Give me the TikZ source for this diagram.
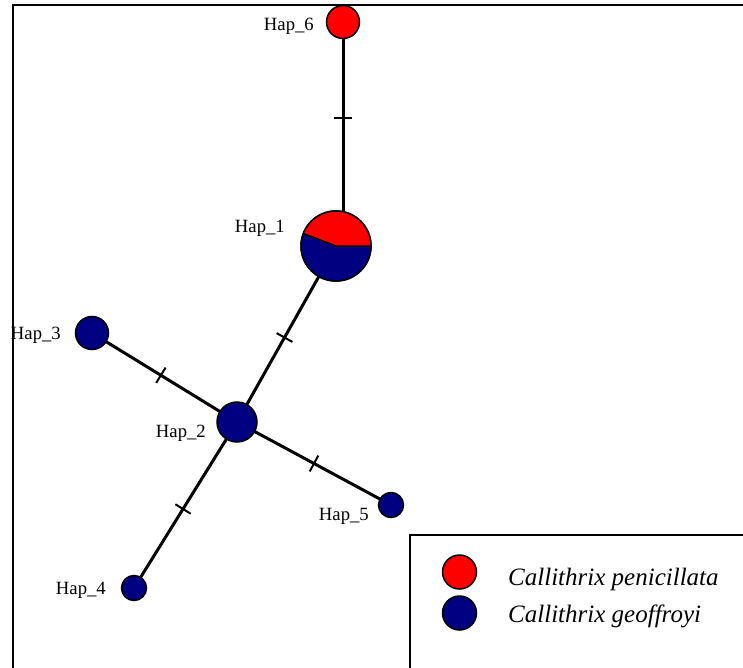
\documentclass[tikz,border=0pt]{standalone}
\usepackage{fontspec}
\setmainfont{Liberation Serif}
\usetikzlibrary{calc}
\definecolor{hapred}{RGB}{255,0,0}
\definecolor{hapblue}{RGB}{0,0,128}
\begin{document}
\begin{tikzpicture}[x=1pt,y=-1pt,
 hap/.style={circle,draw=black,line width=1.5pt,inner sep=0pt,outer sep=0pt},
 pen/.style={hap,fill=hapred},
 geo/.style={hap,fill=hapblue},
 link/.style={line width=3pt},
 tickmark/.style={line width=2pt},
 lab/.style={anchor=base east,inner sep=0pt,font=\fontsize{18.7}{22}\selectfont},
 leg/.style={anchor=base west,inner sep=0pt,font=\fontsize{25}{30}\selectfont\itshape},
 frame/.style={line width=2pt}]
\useasboundingbox (0,0) rectangle (743,668);
\fill[white] (0,0) rectangle (743,668);
\draw[frame] (13,668) -- (13,5) -- (743,5);
% haplotypes
\node[pen, minimum size=33pt] (h6) at (343,22) {};
\node[hap, minimum size=70pt] (h1) at (336,246) {};
\node[geo, minimum size=40pt] (h2) at (237,422) {};
\node[geo, minimum size=33pt] (h3) at (92,333) {};
\node[geo, minimum size=25pt] (h4) at (134,588) {};
\node[geo, minimum size=25pt] (h5) at (391,505) {};
% pie of Hap_1
\fill[hapred] (h1.center) -- ++(35pt,0) arc[start angle=0,end angle=159,radius=35pt] -- cycle;
\fill[hapblue] (h1.center) -- ++(159:35pt) arc[start angle=159,end angle=360,radius=35pt] -- cycle;
\draw[line width=1.5pt] (h1.center) ++(159:35pt) -- (h1.center) -- ++(35pt,0);
\draw[line width=1.5pt] (h1.center) circle[radius=35pt];
% links
\draw[link] (h6) -- (h6 |- h1.north);
\draw[link] (h1) -- (h2);
\draw[link] (h3) -- (h2);
\draw[link] (h2) -- (h5);
\draw[link] (h2) -- (h4);
% mutation ticks
\coordinate (t61) at (343,118);
\draw[tickmark] ($(t61)+(-9,0)$) -- ($(t61)+(9,0)$);
\coordinate (t12) at ($(h1)!0.52!(h2)$);
\draw[tickmark] ($(t12)!9pt!90:(h2)$) -- ($(t12)!9pt!-90:(h2)$);
\coordinate (t32) at ($(h3)!0.475!(h2)$);
\draw[tickmark] ($(t32)!9pt!90:(h2)$) -- ($(t32)!9pt!-90:(h2)$);
\coordinate (t25) at ($(h2)!0.5!(h5)$);
\draw[tickmark] ($(t25)!9pt!90:(h5)$) -- ($(t25)!9pt!-90:(h5)$);
\coordinate (t24) at ($(h2)!0.524!(h4)$);
\draw[tickmark] ($(t24)!9pt!90:(h4)$) -- ($(t24)!9pt!-90:(h4)$);
% labels
\node[lab] (l6) at (314,31) {Hap\_6};
\node[lab] (l1) at (285,233) {Hap\_1};
\node[lab] (l3) at (61,339) {Hap\_3};
\node[lab] (l2) at (206,437) {Hap\_2};
\node[lab] (l5) at (369,520) {Hap\_5};
\node[lab] (l4) at (106,594) {Hap\_4};
% legend
\draw[frame] (410,668) -- (410,535) -- (743,535);
\node[pen, minimum size=34pt] (kp) at (459.5,572) {};
\node[geo, minimum size=34pt] (kg) at (459.5,613) {};
\node[leg] (tp) at (508,585) {Callithrix penicillata};
\node[leg] (tg) at (508,622) {Callithrix geoffroyi};
\end{tikzpicture}
\end{document}
